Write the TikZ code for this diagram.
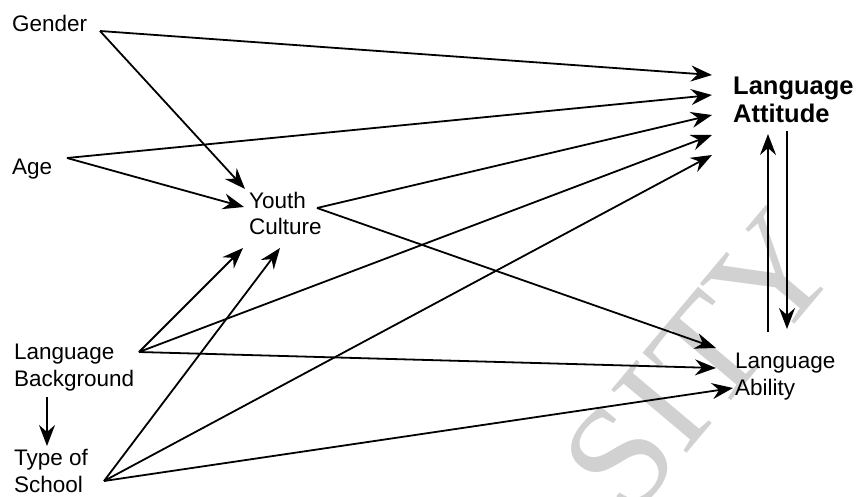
\documentclass[tikz,border=0pt]{standalone}
\usepackage{fontspec}
\setmainfont{Liberation Sans}
\newfontfamily\markfont{Liberation Serif}
\usetikzlibrary{arrows.meta}
\begin{document}
\begin{tikzpicture}[x=1pt,y=-1pt,
  label/.style={inner sep=0pt, anchor=base west, align=left,
    font=\fontsize{22.5}{26.5}\selectfont},
  biglabel/.style={label, font=\fontsize{25.5}{28}\selectfont\bfseries},
  link/.style={line width=1.8pt, -{Stealth[length=21pt,width=16pt,inset=7pt]}}]
\useasboundingbox (0,0) rectangle (868,497);
\fill[white] (0,0) rectangle (868,497);

% faint background watermark lettering
\node[text=black!18, rotate=50, inner sep=0pt,
  font=\fontsize{150}{150}\markfont] (mark) at (700,362) {SITY};

% variables (anchored at the baseline of their last line)
\node[label] (gender) at (12,32) {Gender};
\node[label] (age) at (12,175) {Age};
\node[label] (youth) at (249,235) {Youth\\Culture};
\node[label] (background) at (14,386) {Language\\Background};
\node[label] (school) at (14,492) {Type of\\School};
\node[biglabel] (attitude) at (733,123) {Language\\Attitude};
\node[label] (ability) at (735,395) {Language\\Ability};

% connector ends
\coordinate (g0) at (100,31);
\coordinate (a0) at (67,158);
\coordinate (y0) at (317,208);
\coordinate (b0) at (139,352);
\coordinate (s0) at (104,481);
\coordinate (t1) at (712,75);
\coordinate (t2) at (712,95);
\coordinate (t3) at (712,115);
\coordinate (t4) at (712,135);
\coordinate (t5) at (712,155);
\coordinate (yg) at (245,189);
\coordinate (ya) at (244,207);
\coordinate (yb) at (243,248);
\coordinate (ys) at (280,248);
\coordinate (k1) at (716,348);
\coordinate (k2) at (716,368);
\coordinate (k3) at (733,388);
\coordinate (up0) at (768,332);
\coordinate (up1) at (768,134);
\coordinate (dn0) at (787,131);
\coordinate (dn1) at (787,329);
\coordinate (bs0) at (47,397);
\coordinate (bs1) at (47,446);

% paths of influence
\draw[link] (g0) -- (t1);
\draw[link] (g0) -- (yg);
\draw[link] (a0) -- (t2);
\draw[link] (a0) -- (ya);
\draw[link] (y0) -- (t3);
\draw[link] (y0) -- (k1);
\draw[link] (b0) -- (yb);
\draw[link] (b0) -- (t4);
\draw[link] (b0) -- (k2);
\draw[link] (s0) -- (ys);
\draw[link] (s0) -- (t5);
\draw[link] (s0) -- (k3);
\draw[link] (bs0) -- (bs1);
\draw[link] (up0) -- (up1);
\draw[link] (dn0) -- (dn1);
\end{tikzpicture}
\end{document}
